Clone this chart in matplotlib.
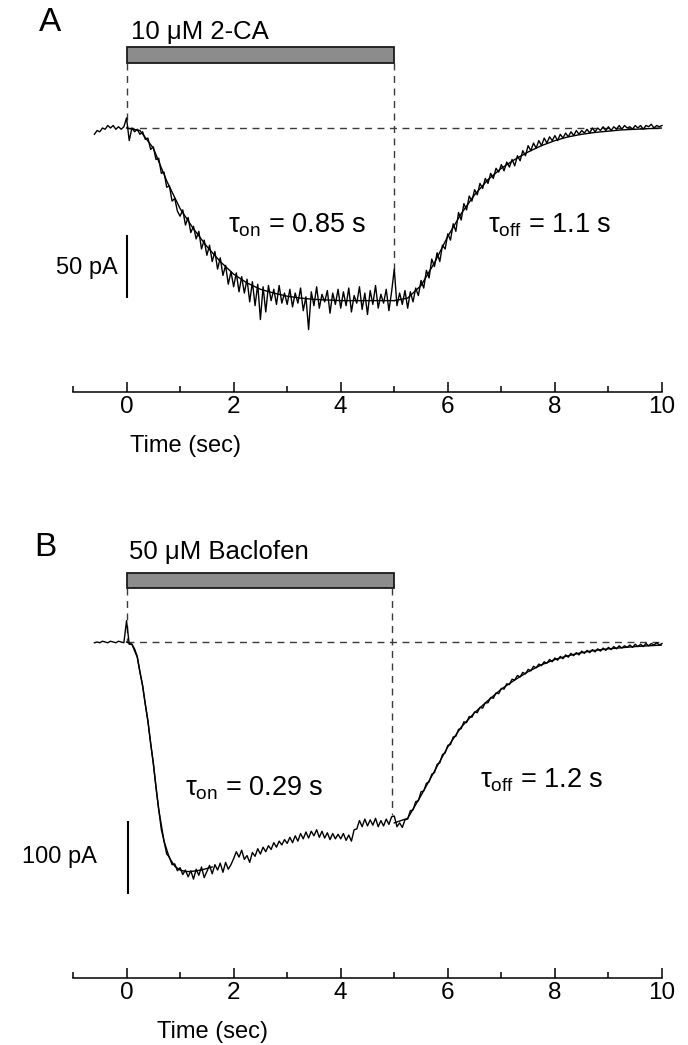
import numpy as np
import matplotlib
matplotlib.use('Agg')
import matplotlib.pyplot as plt
from matplotlib.patches import Rectangle

plt.rcParams['font.family'] = ['Liberation Sans', 'DejaVu Sans']
plt.rcParams['mathtext.fontset'] = 'custom'
plt.rcParams['mathtext.rm'] = 'Liberation Sans'
plt.rcParams['mathtext.it'] = 'Liberation Sans'
plt.rcParams['mathtext.bf'] = 'Liberation Sans:bold'

# ---------------- data (pA) ----------------
trace_t0, trace_t1 = -0.6, 10.0           # sample times: every 0.05 s

trace_a = [
    -5, -2, -3, 0, -1, 2, 0, 2, -1, 1, -1, 1,
    8, -10, 0, -3, -1, -5, -3, -9, -8, -17, -15, -25, -24, -36, -35, -47, -46, -58, -56, -66,
    -70, -65, -77, -71, -83, -78, -88, -82, -96, -89, -101, -93, -106, -98, -112, -103, -117, -109, -124, -114,
    -126, -115, -130, -118, -131, -120, -138, -122, -141, -124, -152, -126, -146, -125, -137, -128, -140, -125, -139, -131,
    -140, -128, -142, -131, -139, -127, -145, -134, -160, -130, -141, -126, -143, -132, -138, -129, -147, -131, -140, -128,
    -143, -130, -141, -127, -146, -133, -139, -126, -144, -131, -148, -129, -140, -125, -143, -132, -139, -128, -145, -130,
    -112, -141, -131, -140, -129, -143, -130, -138, -127, -133, -121, -127, -113, -119, -104, -110, -99, -106, -93, -96,
    -84, -89, -76, -82, -67, -73, -60, -65, -54, -58, -49, -53, -44, -48, -40, -44, -36, -40, -32, -35,
    -29, -34, -27, -31, -25, -30, -22, -26, -18, -22, -14, -18, -12, -16, -10, -14, -8, -12, -7, -10,
    -6, -10, -5, -8, -4, -7, -3, -6, -2, -5, -2, -4, -1, -4, 0, -3, 0, -2, 1, -2,
    1, -2, 1, -1, 2, -1, 2, 0, 1, -1, 2, 0, 2, -1, 2, 1, 3, 0, 2, 1, 2,
]

trace_b = [
    -1, 0, -1, 1, 0, -1, 1, 0, -1, 1, 0, -1,
    28, -3, -3, -9, -19, -40, -57, -82, -104, -134, -159, -192, -219, -247, -262, -279, -283, -293, -292, -301,
    -297, -306, -300, -309, -301, -312, -299, -307, -296, -310, -302, -294, -305, -293, -300, -291, -303, -290, -299, -293,
    -285, -276, -283, -274, -286, -281, -290, -277, -282, -272, -279, -270, -276, -268, -273, -264, -270, -262, -267, -260,
    -265, -257, -264, -255, -262, -252, -259, -250, -258, -249, -255, -247, -257, -249, -258, -251, -260, -252, -259, -253,
    -259, -252, -261, -254, -262, -247, -246, -235, -243, -233, -242, -234, -241, -232, -243, -235, -242, -233, -240, -230,
    -229, -243, -238, -244, -234, -233, -222, -221, -210, -209, -197, -196, -186, -184, -174, -172, -161, -159, -148, -146,
    -136, -135, -125, -124, -115, -114, -105, -106, -98, -99, -92, -93, -86, -87, -80, -80, -73, -74, -67, -68,
    -61, -62, -55, -56, -49, -50, -44, -46, -40, -42, -36, -38, -32, -34, -29, -31, -26, -28, -23, -26,
    -21, -24, -19, -22, -17, -20, -15, -18, -14, -17, -12, -15, -11, -14, -10, -13, -9, -12, -8, -11,
    -7, -10, -6, -9, -5, -8, -5, -7, -4, -7, -3, -6, -3, -6, -2, -5, -2, -4, -1, -4, -2,
]

# exponential fits (pA)
fit_a_on = [0, -2, -16, -42, -64, -80, -94, -106, -116, -123, -128, -131, -133.5, -135,
            -136, -136.5, -137, -137, -137, -137, -137]                    # 0..5 s, 0.25 s
fit_a_off = [-137, -135, -125, -107, -86, -68, -53, -41, -32, -25, -19, -14, -10, -7,
             -5, -3.5, -2.5, -1.5, -1, -0.5, 0]                            # 5..10 s, 0.25 s
fit_b_on = [0, -3, -20, -58, -105, -160, -220, -262, -284, -295, -300, -302, -302,
            -301, -300, -298, -296]                                        # 0..1.6 s, 0.1 s
fit_b_off = [-238, -232, -202, -170, -138, -112, -93, -77, -62, -50, -39, -30, -23,
             -18, -14, -11, -9, -7.5, -6, -5, -4]                          # 5..10 s, 0.25 s

major_ticks = [0, 2, 4, 6, 8, 10]
minor_ticks = [-1, 1, 3, 5, 7, 9]
tick_labels = ['0', '2', '4', '6', '8', '10']

drug_a = '10 \u03bcM 2-CA'
drug_b = '50 \u03bcM Baclofen'
tau_on_a, tau_off_a = '0.85 s', '1.1 s'
tau_on_b, tau_off_b = '0.29 s', '1.2 s'
scale_a, scale_b = 50, 100

# ---------------- figure ----------------
W, H = 688, 1045
fig = plt.figure(figsize=(W / 100, H / 100), dpi=100)
fig.patch.set_facecolor('white')

x_left_px, x_right_px = 73, 662      # x = -1 and x = 10


def make_axes(top_px, bottom_px):
    ax = fig.add_axes([x_left_px / W, 1 - bottom_px / H,
                       (x_right_px - x_left_px) / W, (bottom_px - top_px) / H])
    ax.patch.set_visible(False)
    for s in ('left', 'right', 'top'):
        ax.spines[s].set_visible(False)
    ax.spines['bottom'].set_linewidth(1.1)
    ax.set_yticks([])
    ax.set_xlim(-1, 10)
    ax.set_xticks(major_ticks)
    ax.set_xticklabels(tick_labels)
    ax.set_xticks(minor_ticks, minor=True)
    ax.tick_params(axis='x', which='major', direction='in', length=7, width=1.1,
                   labelsize=17.5, pad=3)
    ax.tick_params(axis='x', which='minor', direction='in', length=4.5, width=1.1)
    return ax


dash = (0, (5, 4))
dcol = '#3a3a3a'
fs = 17


def draw_panel(ax, letter, drug, trace, fon, t_on_end, foff, tau_on, tau_off,
               bar_lo, bar_hi, v5_x, v5_bottom, scale, sb_x, sb_lo, sb_hi,
               pos):
    t = np.linspace(trace_t0, trace_t1, len(trace))
    # bar
    ax.add_patch(Rectangle((0, bar_lo), 5.0, bar_hi - bar_lo, facecolor='#8c8c8c',
                           edgecolor='#1a1a1a', lw=1.3, clip_on=False, zorder=3))
    # dashed guides
    ax.plot([0, 0], [bar_lo, 0], ls=dash, color=dcol, lw=1.0, clip_on=False)
    ax.plot([v5_x, v5_x], [bar_lo, v5_bottom], ls=dash, color=dcol, lw=1.0, clip_on=False)
    ax.plot([0, 10], [0, 0], ls=dash, color=dcol, lw=1.0, clip_on=False)
    # fits
    ax.plot(np.linspace(0, t_on_end, len(fon)), fon, color='black', lw=1.0)
    ax.plot(np.linspace(5, 10, len(foff)), foff, color='black', lw=1.0)
    # trace
    ax.plot(t, trace, color='black', lw=1.0, clip_on=False)
    # scale bar
    ax.plot([sb_x, sb_x], [sb_lo, sb_hi], color='black', lw=1.5, solid_capstyle='butt')
    # texts
    ax.text(pos['letter'][0], pos['letter'][1], letter, fontsize=24, ha='center', va='center')
    ax.text(pos['drug'][0], pos['drug'][1], drug, fontsize=18.5, ha='left', va='center')
    ax.text(pos['scale'][0], pos['scale'][1], f'{scale} pA', fontsize=fs, ha='right', va='center')
    ax.text(pos['ton'][0], pos['ton'][1], r'$\tau_{\mathrm{on}}$' + ' = ' + tau_on,
            fontsize=19.5, ha='left', va='center')
    ax.text(pos['toff'][0], pos['toff'][1], r'$\tau_{\mathrm{off}}$' + ' = ' + tau_off,
            fontsize=19.5, ha='left', va='center')
    ax.text(pos['xlabel'][0], pos['xlabel'][1], 'Time (sec)', fontsize=fs,
            ha='center', va='center')


# Panel A: baseline at y=128 px, 1.26 px per pA
axA = make_axes(47, 392)
axA.set_ylim(-(392 - 128) / 1.26, (128 - 47) / 1.26)
draw_panel(axA, 'A', drug_a, trace_a, fit_a_on, 5.0, fit_a_off, tau_on_a, tau_off_a,
           bar_lo=(128 - 63) / 1.26, bar_hi=(128 - 47) / 1.26,
           v5_x=5.0, v5_bottom=-115, scale=scale_a, sb_x=0.0, sb_lo=-135, sb_hi=-85,
           pos={'letter': (-1.42, 84), 'drug': (0.08, 76), 'scale': (-0.17, -111),
                'ton': (1.9, -77), 'toff': (6.75, -77), 'xlabel': (1.1, -252)})

# Panel B: baseline at y=642 px, 0.76 px per pA
axB = make_axes(573, 978)
axB.set_ylim(-(978 - 642) / 0.76, (642 - 573) / 0.76)
draw_panel(axB, 'B', drug_b, trace_b, fit_b_on, 1.6, fit_b_off, tau_on_b, tau_off_b,
           bar_lo=(642 - 588) / 0.76, bar_hi=(642 - 573) / 0.76,
           v5_x=4.95, v5_bottom=-228, scale=scale_b, sb_x=0.03, sb_lo=-332, sb_hi=-235,
           pos={'letter': (-1.52, 124), 'drug': (0.05, 118), 'scale': (-0.55, -283),
                'ton': (1.1, -193), 'toff': (6.6, -182), 'xlabel': (1.6, -513)})

fig.savefig('out.png', dpi=100, facecolor='white')
